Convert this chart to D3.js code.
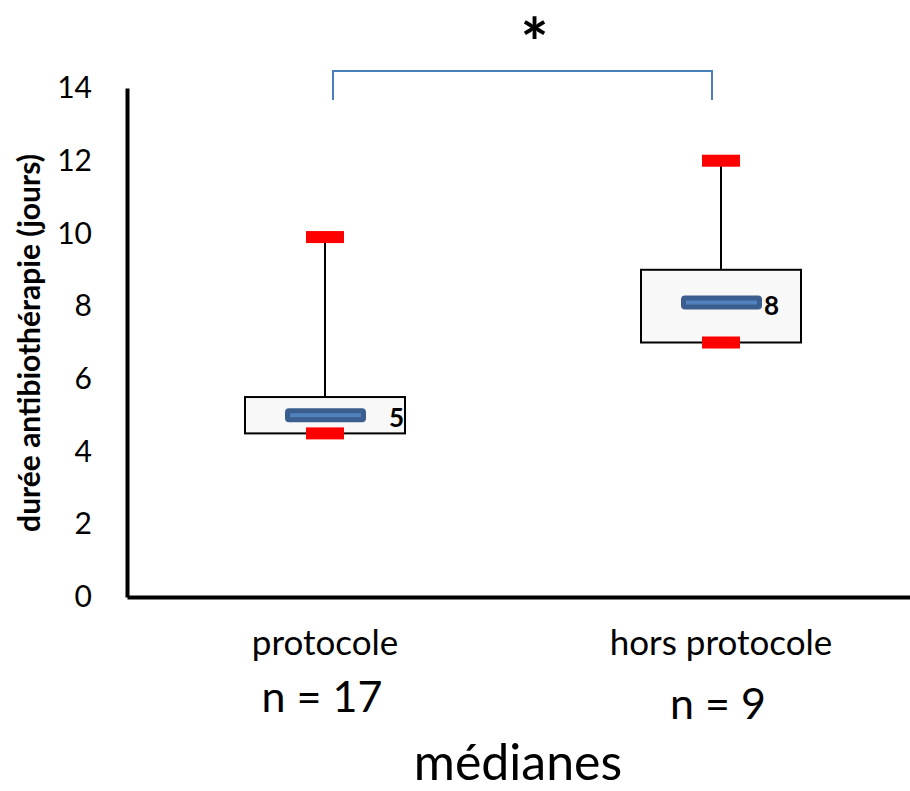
<!DOCTYPE html>
<html>
<head>
<meta charset="utf-8">
<script src="https://cdn.jsdelivr.net/npm/d3@7"></script>
<style>
  body { margin: 0; background: #fff; }
  text { font-family: Lato, "Open Sans", sans-serif; }
</style>
</head>
<body>
<script>
const WIDTH = 910;
const HEIGHT = 791;

// données
const categories = ["protocole", "hors protocole"];
const effectifs = ["n = 17", "n = 9"];
const minimums = [4.5, 7];
const q1 = [4.5, 7];
const medianes = [5, 8.1];
const q3 = [5.5, 9];
const maximums = [9.9, 12];
const etiquettesMediane = ["5", "8"];
const yTicks = [0, 2, 4, 6, 8, 10, 12, 14];

const boites = categories.map((c, i) => ({
  cat: c,
  n: effectifs[i],
  min: minimums[i],
  q1: q1[i],
  med: medianes[i],
  q3: q3[i],
  max: maximums[i],
  label: etiquettesMediane[i]
}));

const SVG = d3
  .select("body")
  .append("svg")
  .attr("width", WIDTH)
  .attr("height", HEIGHT);

const x = d3.scaleBand().domain(categories).range([127, 919]);
const y = d3.scaleLinear().domain([0, 14]).range([597, 88]);
const cx = (d) => x(d) + x.bandwidth() / 2;

// axe Y
const axeY = SVG.append("g")
  .attr("transform", "translate(127,0)")
  .call(d3.axisLeft(y).tickValues(yTicks).tickSize(0).tickPadding(35));
axeY.select(".domain").attr("stroke", "#000").attr("stroke-width", 4);
axeY.selectAll("text")
  .attr("font-size", 30)
  .attr("fill", "#000")
  .attr("font-family", "Lato, sans-serif");

// axe X
const axeX = SVG.append("g")
  .attr("transform", "translate(0,597)")
  .call(d3.axisBottom(x).tickSize(0).tickFormat(""));
axeX.select(".domain").attr("stroke", "#000").attr("stroke-width", 4);

SVG.append("text")
  .attr("transform", "translate(40,343) rotate(-90)")
  .attr("text-anchor", "middle")
  .attr("font-size", 30)
  .attr("font-weight", "bold")
  .text("durée antibiothérapie (jours)");

// libellés des catégories
SVG.selectAll(".cat")
  .data(boites)
  .join("text")
  .attr("class", "cat")
  .attr("x", (d) => cx(d.cat))
  .attr("y", 655)
  .attr("text-anchor", "middle")
  .attr("font-size", 35)
  .text((d) => d.cat);

SVG.selectAll(".n")
  .data(boites)
  .join("text")
  .attr("class", "n")
  .attr("x", (d) => cx(d.cat) - 3)
  .attr("y", (d, i) => 712 + i * 7)
  .attr("text-anchor", "middle")
  .attr("font-size", 43)
  .text((d) => d.n);

SVG.append("text")
  .attr("x", 518)
  .attr("y", 780)
  .attr("text-anchor", "middle")
  .attr("font-size", 50)
  .text("médianes");

// moustaches
const g = SVG.append("g");

g.selectAll(".moustache")
  .data(boites)
  .join("line")
  .attr("x1", (d) => cx(d.cat))
  .attr("x2", (d) => cx(d.cat))
  .attr("y1", (d) => y(d.q3))
  .attr("y2", (d) => y(d.max))
  .attr("stroke", "#000")
  .attr("stroke-width", 2);

g.selectAll(".boite")
  .data(boites)
  .join("rect")
  .attr("x", (d) => cx(d.cat) - 80)
  .attr("width", 160)
  .attr("y", (d) => y(d.q3))
  .attr("height", (d) => y(d.q1) - y(d.q3))
  .attr("fill", "#f8f8f8")
  .attr("stroke", "#000")
  .attr("stroke-width", 2);

// barre de la médiane
g.selectAll(".med")
  .data(boites)
  .join("rect")
  .attr("x", (d) => cx(d.cat) - 40)
  .attr("width", 81)
  .attr("y", (d) => y(d.med) - 7)
  .attr("height", 14)
  .attr("rx", 4)
  .attr("fill", "#3b5e8f");

g.selectAll(".medInt")
  .data(boites)
  .join("rect")
  .attr("x", (d) => cx(d.cat) - 35)
  .attr("width", 71)
  .attr("y", (d) => y(d.med) - 2)
  .attr("height", 4)
  .attr("fill", "#4f81bd");

// max et min en rouge
const caps = boites.flatMap((d) => [
  { cat: d.cat, v: d.max },
  { cat: d.cat, v: d.min }
]);
g.selectAll(".cap")
  .data(caps)
  .join("rect")
  .attr("x", (d) => cx(d.cat) - 19)
  .attr("width", 38)
  .attr("y", (d) => y(d.v) - 6)
  .attr("height", 12)
  .attr("fill", "#ff0000");

const decalage = [64, 43];
g.selectAll(".lab")
  .data(boites)
  .join("text")
  .attr("x", (d, i) => cx(d.cat) + decalage[i])
  .attr("y", (d) => y(d.med) + 12)
  .attr("font-size", 26)
  .attr("font-weight", "bold")
  .text((d) => d.label);

// crochet de significativité
const haut = y(14) - 17;
const bas = y(14) + 12;
const xa = cx(categories[0]) + 8;
const xb = cx(categories[1]) - 9;
SVG.append("path")
  .attr("d", `M${xa},${bas}V${haut}H${xb}V${bas}`)
  .attr("fill", "none")
  .attr("stroke", "#4a7ebb")
  .attr("stroke-width", 2);

SVG.append("text")
  .attr("x", (xa + xb) / 2 + 12)
  .attr("y", 67)
  .attr("text-anchor", "middle")
  .attr("font-family", "'DejaVu Sans', sans-serif")
  .attr("font-size", 66)
  .attr("font-weight", "bold")
  .text("*");
</script>
</body>
</html>
